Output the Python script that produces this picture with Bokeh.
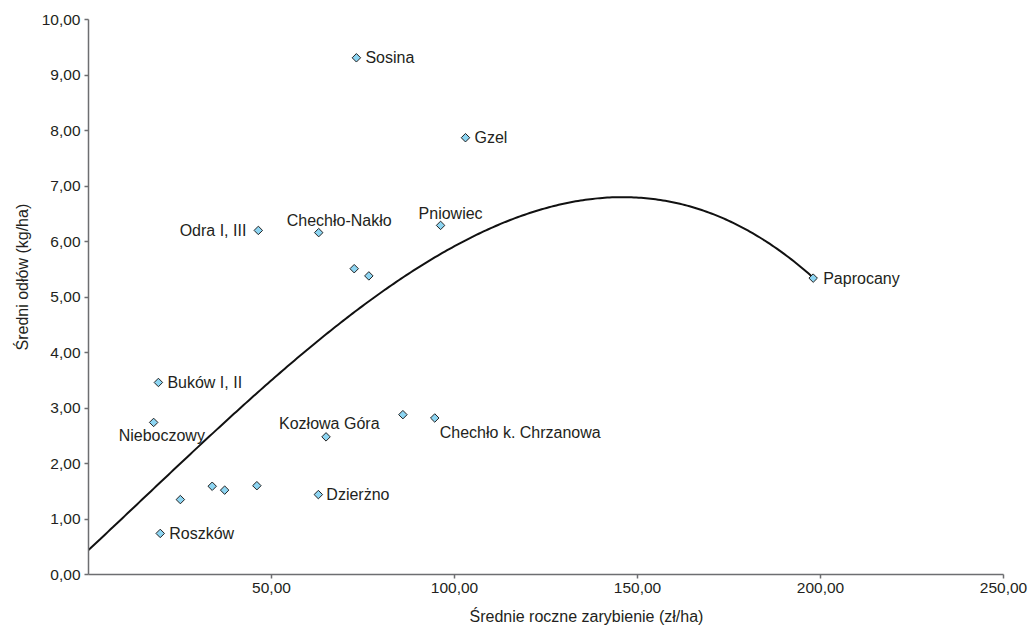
import numpy as np
from bokeh.plotting import figure
from bokeh.models import ColumnDataSource, FixedTicker, Title
from bokeh.core.properties import value
from bokeh.embed import file_html
from bokeh.resources import INLINE

# Mean annual stocking (zł/ha) vs mean catch (kg/ha) per reservoir
stocking = [73.2, 103.0, 96.2, 62.9, 46.4, 72.6, 76.6, 198.0, 19.1, 17.8,
            19.6, 25.1, 33.8, 37.2, 46.0, 64.9, 85.9, 94.6, 62.8]
catch = [9.31, 7.87, 6.29, 6.16, 6.20, 5.51, 5.38, 5.34, 3.46, 2.74,
         0.74, 1.35, 1.59, 1.52, 1.60, 2.48, 2.88, 2.82, 1.44]
names = ["Sosina", "Gzel", "Pniowiec", "Chechło-Nakło", "Odra I, III", "", "",
         "Paprocany", "Buków I, II", "Nieboczowy", "Roszków", "", "", "", "",
         "Kozłowa Góra", "", "Chechło k. Chrzanowa", "Dzierżno"]

# third-order polynomial trend: c0 + c1*x + c2*x^2 + c3*x^3
trend_coef = [0.44, 0.06166, 5.057e-5, -1.1957e-6]
trend_x_range = (0.0, 198.0)

x_ticks = [50, 100, 150, 200, 250]
y_ticks = list(range(0, 11))

# label placement (screen pixels relative to the point)
label_dx = [9, 9, -22, -32, -12, 0, 0, 10, 9, -35, 9, 0, 0, 0, 0, -47, 0, 5, 8]
label_dy = [0, 0, -12, -12, 0, 0, 0, 0, 0, 13, 0, 0, 0, 0, 0, -13, 0, 15, 0]
label_align = ["left"] * len(names)
label_align[4] = "right"

FONT = "Liberation Sans"
TXT = "#231f20"

p = figure(width=1030, height=634, output_backend="svg", toolbar_location=None,
           x_range=(0, 250), y_range=(0, 10),
           min_border_left=88, min_border_right=27, min_border_top=19,
           min_border_bottom=60)
p.outline_line_color = None
p.xgrid.visible = False
p.ygrid.visible = False

xs = np.linspace(trend_x_range[0], trend_x_range[1], 300)
ys = sum(c * xs ** k for k, c in enumerate(trend_coef))
p.line(xs, ys, line_color="#111111", line_width=2)

src = ColumnDataSource(dict(x=stocking, y=catch, name=names, dx=label_dx,
                            dy=label_dy, align=label_align))
p.scatter("x", "y", source=src, marker="square", angle=np.pi / 4, size=6,
          fill_color="#8dd5f2", line_color="#222222", line_width=1)
p.text("x", "y", text="name", source=src, x_offset="dx", y_offset="dy",
       text_align="align", text_baseline="middle", text_font=value(FONT),
       text_font_size="16px", text_color=TXT)

for ax in (p.xaxis[0], p.yaxis[0]):
    ax.axis_line_color = "#6d6e71"
    ax.axis_line_width = 1.5
    ax.major_tick_line_color = "#6d6e71"
    ax.major_tick_line_width = 1.5
    ax.major_tick_in = 0
    ax.major_tick_out = 4
    ax.minor_tick_line_color = None
    ax.major_label_text_font = FONT
    ax.major_label_text_font_size = "15.5px"
    ax.major_label_text_color = TXT
    ax.major_label_standoff = 4

p.xaxis.ticker = FixedTicker(ticks=x_ticks)
p.xaxis.major_label_overrides = {t: f"{t:.2f}".replace(".", ",") for t in x_ticks}
p.yaxis.ticker = FixedTicker(ticks=y_ticks)
p.yaxis.major_label_overrides = {t: f"{t:.2f}".replace(".", ",") for t in y_ticks}

# axis titles
p.add_layout(Title(text="Średnie roczne zarybienie (zł/ha)", align="left",
                   offset=381, standoff=20, text_font=FONT,
                   text_font_size="16px", text_font_style="normal",
                   text_color=TXT), "below")
p.add_layout(Title(text="Średni odłów (kg/ha)", align="left", offset=224,
                   standoff=16, text_font=FONT, text_font_size="16px",
                   text_font_style="normal", text_color=TXT), "left")

open("out.html", "w").write(file_html(p, INLINE))
